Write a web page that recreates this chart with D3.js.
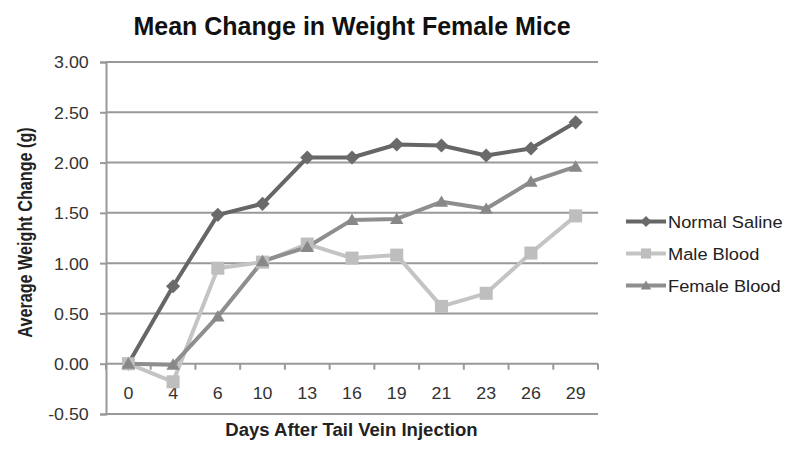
<!DOCTYPE html>
<html><head><meta charset="utf-8">
<script src="https://cdn.jsdelivr.net/npm/d3@7/dist/d3.min.js"></script>
<style>body{margin:0;background:#fff}svg{display:block;font-family:"Liberation Sans",Arial,sans-serif}</style>
</head><body><svg id="c" width="800" height="456"></svg>
<script>
const days = ["0","4","6","10","13","16","19","21","23","26","29"];
const normalSaline = [0, 0.77, 1.48, 1.59, 2.05, 2.05, 2.18, 2.17, 2.07, 2.14, 2.40];
const maleBlood = [0, -0.18, 0.95, 1.01, 1.19, 1.05, 1.08, 0.57, 0.70, 1.10, 1.47];
const femaleBlood = [0, -0.01, 0.47, 1.02, 1.16, 1.43, 1.44, 1.61, 1.54, 1.81, 1.96];
const yTicks = [-0.5, 0, 0.5, 1, 1.5, 2, 2.5, 3];
const seriesNames = ["Normal Saline", "Male Blood", "Female Blood"];

const diamond = {draw(ctx, size){ const r = Math.sqrt(size) * 0.7071; ctx.moveTo(0,-r); ctx.lineTo(r,0); ctx.lineTo(0,r); ctx.lineTo(-r,0); ctx.closePath(); }};
const square = {draw(ctx, size){ const h = Math.sqrt(size)/2; ctx.rect(-h,-h,2*h,2*h); }};
const triangle = {draw(ctx, size){ const h = Math.sqrt(size)/2; ctx.moveTo(0,-h*0.95); ctx.lineTo(h,h*0.75); ctx.lineTo(-h,h*0.75); ctx.closePath(); }};

const series = [
  {name: seriesNames[0], values: normalSaline, color: "#666666", mcolor:"#6a6a6a", shape: diamond, size: 100},
  {name: seriesNames[1], values: maleBlood, color: "#c4c4c4", mcolor:"#bebebe", shape: square, size: 170},
  {name: seriesNames[2], values: femaleBlood, color: "#8e8e8e", mcolor:"#888888", shape: triangle, size: 180}
];

const svg = d3.select("#c");
const L = 106, R = 598, T = 62, B = 414;
const x = d3.scaleBand().domain(days).range([L, R]);
const y = d3.scaleLinear().domain([-0.5, 3]).range([B, T]);
const fmt = d => d3.format(".2f")(d).replace("\u2212", "-");

// gridlines
svg.append("g").selectAll("line").data(yTicks).join("line")
  .attr("x1", L).attr("x2", R).attr("y1", d => y(d)).attr("y2", d => y(d))
  .attr("stroke", "#999").attr("stroke-width", 2);

// y axis
const ya = svg.append("g").attr("transform", `translate(${L},0)`)
  .call(d3.axisLeft(y).tickValues(yTicks).tickFormat(fmt).tickSize(6));
ya.select(".domain").attr("stroke", "#999").attr("stroke-width", 2);
ya.selectAll(".tick line").attr("stroke", "#999").attr("stroke-width", 2);
ya.selectAll("text").attr("x", -16).attr("dy", "0.36em").attr("font-size", 16.5).attr("fill", "#333")
  .attr("font-family", "Liberation Sans, Arial, sans-serif").attr("transform", "scale(1.08,1)");

// x axis at zero
const xa = svg.append("g").attr("transform", `translate(0,${y(0)})`)
  .call(d3.axisBottom(x).tickSize(0));
xa.select(".domain").remove();
xa.selectAll("text").attr("y", 0).attr("dy", 0)
  .attr("font-size", 16.5).attr("fill", "#333").attr("font-family", "Liberation Sans, Arial, sans-serif")
  .attr("transform", "translate(0,35) scale(1.08,1)");
const bounds = days.map(d => x(d)).concat([R]);
svg.append("g").selectAll("line").data(bounds).join("line")
  .attr("x1", d => d).attr("x2", d => d).attr("y1", y(0)).attr("y2", y(0) + 6)
  .attr("stroke", "#999").attr("stroke-width", 2);

// lines
const cx = i => x(days[i]) + x.bandwidth() / 2;
const line = d3.line().x((d, i) => cx(i)).y(d => y(d));
series.forEach(s => {
  svg.append("path").datum(s.values).attr("d", line)
    .attr("fill", "none").attr("stroke", s.color).attr("stroke-width", 4).attr("stroke-linejoin", "round");
});
series.forEach(s => {
  svg.append("g").selectAll("path").data(s.values).join("path")
    .attr("transform", (d, i) => `translate(${cx(i)},${y(d)})`)
    .attr("d", d3.symbol().type(s.shape).size(s.size))
    .attr("fill", s.mcolor);
});

// legend
const lg = svg.append("g");
series.forEach((s, i) => {
  const yy = 221.5 + i * 32;
  lg.append("line").attr("x1", 626).attr("x2", 666).attr("y1", yy).attr("y2", yy)
    .attr("stroke", s.color).attr("stroke-width", 4);
  lg.append("path").attr("transform", `translate(646,${yy})`)
    .attr("d", d3.symbol().type(s.shape).size(s.size * 0.6)).attr("fill", s.mcolor);
  lg.append("text").attr("transform", `translate(668,${yy + 6}) scale(1.12,1)`).text(s.name)
    .attr("font-size", 16.3).attr("fill", "#222");
});

// title & axis titles
svg.append("text").attr("x", 352).attr("y", 35).attr("text-anchor", "middle")
  .attr("font-size", 25).attr("font-weight", "bold").attr("fill", "#111").text("Mean Change in Weight Female Mice");
svg.append("text").attr("transform", "translate(351.5,436) scale(1.06,1)").attr("text-anchor", "middle")
  .attr("font-size", 17.5).attr("font-weight", "bold").attr("fill", "#222").text("Days After Tail Vein Injection");
svg.append("text").attr("transform", "translate(32,232.5) scale(1.2,1) rotate(-90)").attr("text-anchor", "middle")
  .attr("font-size", 16.2).attr("font-weight", "bold").attr("fill", "#222").text("Average Weight Change (g)");
</script></body></html>
